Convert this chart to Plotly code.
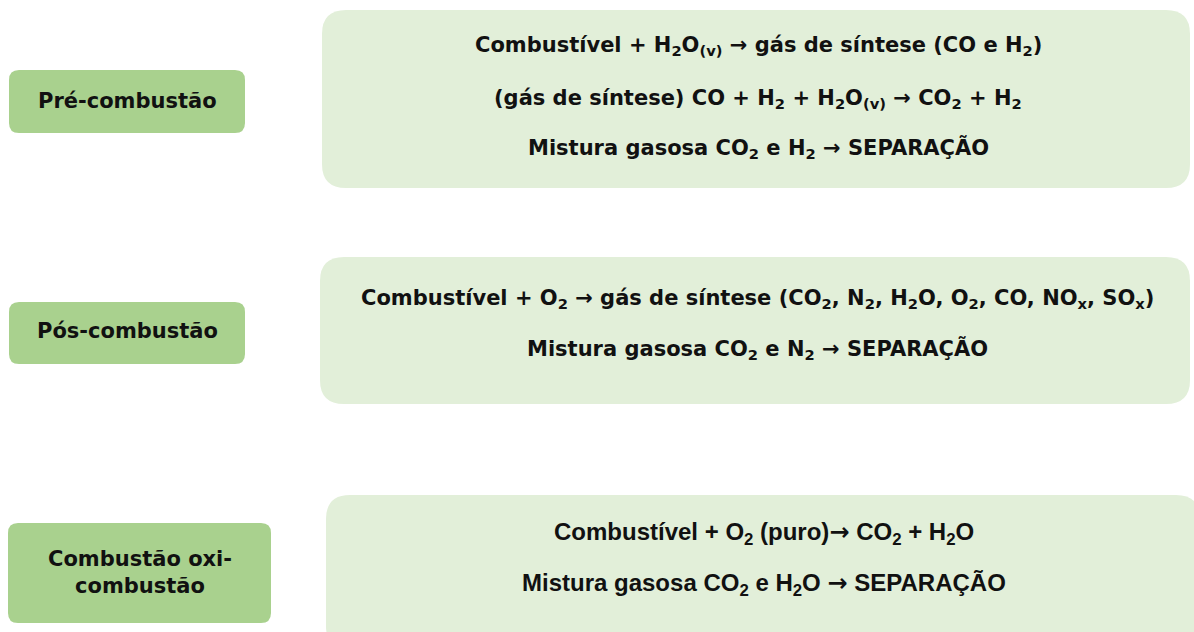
import plotly.graph_objects as go

# Content
ARW = "<span style='font-family:DejaVu Sans'>→</span>"
labels = ["Pré-combustão", "Pós-combustão", "Combustão oxi-<br>combustão"]
pre_lines = [
    "Combustível + H<sub>2</sub>O<sub>(v)</sub> → gás de síntese (CO e H<sub>2</sub>)",
    "(gás de síntese) CO + H<sub>2</sub> + H<sub>2</sub>O<sub>(v)</sub> → CO<sub>2</sub> + H<sub>2</sub>",
    "Mistura gasosa CO<sub>2</sub> e H<sub>2</sub> → SEPARAÇÃO",
]
pos_lines = [
    "Combustível + O<sub>2</sub> → gás de síntese (CO<sub>2</sub>, N<sub>2</sub>, H<sub>2</sub>O, O<sub>2</sub>, CO, NO<sub>x</sub>, SO<sub>x</sub>)",
    "Mistura gasosa CO<sub>2</sub> e N<sub>2</sub> → SEPARAÇÃO",
]
oxi_lines = [
    f"Combustível + O<sub>2</sub> (puro){ARW} CO<sub>2</sub> + H<sub>2</sub>O",
    f"Mistura gasosa CO<sub>2</sub> e H<sub>2</sub>O {ARW} SEPARAÇÃO",
]

W, H = 1194, 632
DARK = "#a9d18e"
LIGHT = "#e2efd9"


def rrect(x0, y0, x1, y1, r):
    return (f"M{x0+r},{y0} L{x1-r},{y0} Q{x1},{y0} {x1},{y0+r} "
            f"L{x1},{y1-r} Q{x1},{y1} {x1-r},{y1} L{x0+r},{y1} "
            f"Q{x0},{y1} {x0},{y1-r} L{x0},{y0+r} Q{x0},{y0} {x0+r},{y0} Z")


left_boxes = [(9, 70, 245, 133), (9, 302, 245, 364), (8, 523, 271, 623)]
right_boxes = [(322, 10, 1190, 188), (320, 257, 1190, 404), (326, 495, 1200, 650)]

shapes = []
for b in left_boxes:
    shapes.append(dict(type="path", path=rrect(*b, 10), xref="x", yref="y",
                       fillcolor=DARK, line=dict(width=0), layer="below"))
for b in right_boxes:
    shapes.append(dict(type="path", path=rrect(*b, 24), xref="x", yref="y",
                       fillcolor=LIGHT, line=dict(width=0), layer="below"))

font = dict(family="DejaVu Sans", size=21, color="#111111", weight="bold")
narrow = dict(family="Liberation Sans Narrow, Liberation Sans", size=24, color="#111111", weight="bold")

annotations = []
label_pos = [(127, 101), (127, 331), (140, 572)]
for lab, (x, y) in zip(labels, label_pos):
    annotations.append(dict(x=x, y=y, text=lab, showarrow=False, xref="x", yref="y",
                            font=font, align="center", xanchor="center", yanchor="middle"))

for lines, ys, xc, f in [(pre_lines, [46, 99, 148], 758, font),
                          (pos_lines, [299, 349], 757, font),
                          (oxi_lines, [533, 584], 764, narrow)]:
    for t, y in zip(lines, ys):
        annotations.append(dict(x=xc, y=y, text=t, showarrow=False, xref="x", yref="y",
                                font=f, xanchor="center", yanchor="middle"))

fig = go.Figure()
fig.update_layout(
    width=W, height=H, margin=dict(l=0, r=0, t=0, b=0),
    paper_bgcolor="white", plot_bgcolor="white",
    xaxis=dict(range=[0, W], visible=False, fixedrange=True),
    yaxis=dict(range=[H, 0], visible=False, fixedrange=True),
    shapes=shapes, annotations=annotations, showlegend=False,
)
fig.write_html("out.html", config={"displayModeBar": False},
               post_script="document.body.style.margin='0';document.body.style.overflow='hidden';")
